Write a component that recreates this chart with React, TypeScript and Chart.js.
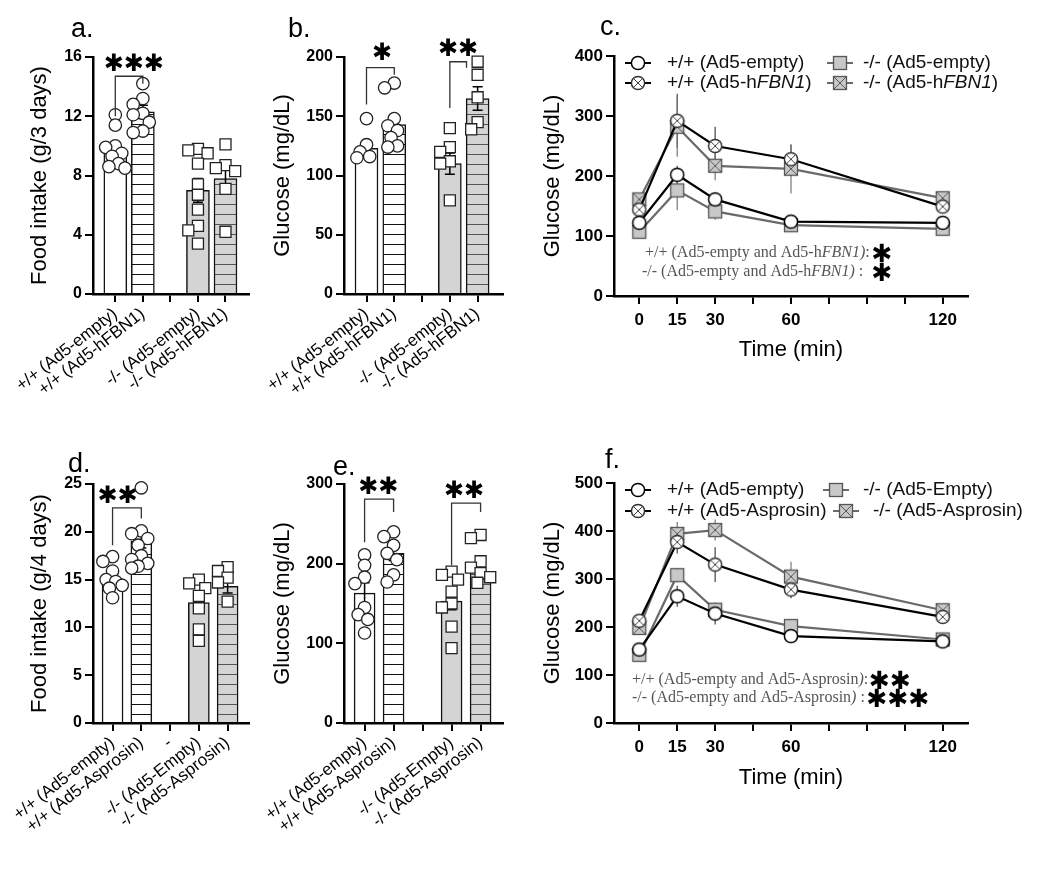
import React, { useEffect, useRef } from 'react';
import { Chart, registerables } from 'chart.js';
Chart.register(...registerables);

// ================= DATA =================
// Panel a — food intake (g/3 days)
const A_LABELS = ['+/+ (Ad5-empty)', '+/+ (Ad5-hFBN1)', '', '-/- (Ad5-empty)', '-/- (Ad5-hFBN1)'];
const A_MEAN = [9.6, 12.3, null, 7.0, 7.8];
const A_SEM = [0.4, 0.45, null, 0.8, 0.75];
const A_WT_EMPTY = [12.1, 11.4, 10.0, 9.9, 9.5, 9.3, 8.8, 8.6, 8.5];
const A_WT_FBN1 = [14.2, 13.2, 12.8, 12.2, 12.1, 11.6, 11.0, 10.9];
const A_KO_EMPTY = [9.8, 9.7, 9.5, 8.8, 7.4, 6.7, 5.7, 4.6, 4.3, 3.4];
const A_KO_FBN1 = [10.1, 8.7, 8.5, 8.3, 7.1, 4.2];

// Panel b — glucose (mg/dL)
const B_LABELS = ['+/+ (Ad5-empty)', '+/+ (Ad5-hFBN1)', '', '-/- (Ad5-empty)', '-/- (Ad5-hFBN1)'];
const B_MEAN = [123, 143, null, 110, 165];
const B_SEM = [6, 7, null, 9, 10];
const B_WT_EMPTY = [148, 126, 120, 116, 115];
const B_WT_FBN1 = [178, 174, 148, 142, 138, 132, 125, 124];
const B_KO_EMPTY = [140, 124, 120, 112, 110, 79];
const B_KO_FBN1 = [196, 185, 166, 145, 139];

// Panel c — GTT time course
const C_TIME = [0, 15, 30, 60, 120];
const C_WT_EMPTY = [122, 202, 161, 124, 122];
const C_WT_EMPTY_SEM = [5, 15, 12, 8, 4];
const C_WT_FBN1 = [144, 292, 250, 228, 149];
const C_WT_FBN1_SEM = [8, 45, 32, 24, 8];
const C_KO_EMPTY = [107, 176, 141, 118, 112];
const C_KO_EMPTY_SEM = [6, 33, 14, 10, 5];
const C_KO_FBN1 = [161, 282, 217, 212, 163];
const C_KO_FBN1_SEM = [10, 50, 24, 41, 10];

// Panel d — food intake (g/4 days)
const D_LABELS = ['+/+ (Ad5-empty)', '+/+ (Ad5-Asprosin)', '-', '-/- (Ad5-Empty)', '-/- (Ad5-Asprosin)'];
const D_MEAN = [15.1, 19.0, null, 12.6, 14.3];
const D_SEM = [0.5, 0.7, null, 0.9, 0.7];
const D_WT_EMPTY = [17.4, 16.9, 15.9, 15.0, 14.8, 14.4, 14.1, 13.1];
const D_WT_ASP = [24.6, 20.1, 19.8, 19.3, 18.6, 17.5, 17.1, 16.7, 16.4, 16.2];
const D_KO_EMPTY = [15.0, 14.6, 14.1, 13.3, 12.0, 9.8, 8.6];
const D_KO_ASP = [16.3, 15.9, 15.2, 14.7, 12.7];

// Panel e — glucose (mg/dL)
const E_LABELS = ['+/+ (Ad5-empty)', '+/+ (Ad5-Asprosin)', '', '-/- (Ad5-Empty)', '-/- (Ad5-Asprosin)'];
const E_MEAN = [163, 213, null, 153, 190];
const E_SEM = [13, 9, null, 11, 9];
const E_WT_EMPTY = [211, 198, 183, 175, 145, 136, 130, 113];
const E_WT_ASP = [240, 234, 223, 213, 205, 186, 177];
const E_KO_EMPTY = [190, 186, 180, 165, 150, 145, 121, 94];
const E_KO_ASP = [236, 232, 203, 195, 188, 183, 176];

// Panel f — GTT time course
const F_TIME = [0, 15, 30, 60, 120];
const F_WT_EMPTY = [153, 264, 228, 181, 170];
const F_WT_EMPTY_SEM = [6, 22, 23, 12, 8];
const F_WT_ASP = [213, 377, 330, 278, 221];
const F_WT_ASP_SEM = [10, 24, 36, 18, 10];
const F_KO_EMPTY = [142, 308, 236, 202, 174];
const F_KO_EMPTY_SEM = [6, 15, 13, 10, 6];
const F_KO_ASP = [198, 394, 402, 305, 235];
const F_KO_ASP_SEM = [10, 25, 22, 31, 10];

const TIME_TICKS = [0, 15, 30, 45, 60, 75, 90, 105, 120];
const TIME_LABELS = [0, 15, 30, 60, 120];

// ================= STYLE =================
const SANS = '"Liberation Sans", Arial, Helvetica, sans-serif';
const SERIF = '"Liberation Serif", "Times New Roman", serif';
const STAR = '✱';
const STAR_FONT = '"DejaVu Sans", sans-serif';

function makeHatch(bg: string, line: string): CanvasPattern {
  const c = document.createElement('canvas');
  c.width = 8; c.height = 10;
  const g = c.getContext('2d')!;
  g.fillStyle = bg; g.fillRect(0, 0, 8, 10);
  g.fillStyle = line; g.fillRect(0, 4, 8, 1);
  return g.createPattern(c, 'repeat')!;
}

function makeMarker(kind: string): HTMLCanvasElement {
  const s = 18;
  const c = document.createElement('canvas');
  c.width = s; c.height = s;
  const g = c.getContext('2d')!;
  const m = s / 2;
  if (kind === 'circle' || kind === 'circleX') {
    g.beginPath(); g.arc(m, m, 6.6, 0, Math.PI * 2);
    g.fillStyle = '#fff'; g.fill();
    g.lineWidth = 1.5; g.strokeStyle = kind === 'circle' ? '#000' : '#333'; g.stroke();
    if (kind === 'circleX') {
      const d = 4.6;
      g.beginPath(); g.moveTo(m - d, m - d); g.lineTo(m + d, m + d);
      g.moveTo(m + d, m - d); g.lineTo(m - d, m + d);
      g.lineWidth = 1; g.strokeStyle = '#444'; g.stroke();
    }
  } else {
    g.fillStyle = '#c8c8c8'; g.fillRect(m - 6.5, m - 6.5, 13, 13);
    g.lineWidth = 1.3; g.strokeStyle = '#555'; g.strokeRect(m - 6.5, m - 6.5, 13, 13);
    if (kind === 'squareX') {
      g.beginPath(); g.moveTo(m - 6.5, m - 6.5); g.lineTo(m + 6.5, m + 6.5);
      g.moveTo(m + 6.5, m - 6.5); g.lineTo(m - 6.5, m + 6.5);
      g.lineWidth = 1; g.strokeStyle = '#555'; g.stroke();
    }
  }
  return c;
}

// simple beeswarm: horizontal offsets (category units) so points do not pile up
function swarm(values: number[], pxPerUnit: number, pxPerCat: number, r: number, maxOff: number): number[] {
  const order = values.map((_, i) => i).sort((a, b) => values[b] - values[a]);
  const placed: { x: number; y: number }[] = [];
  const out = new Array(values.length).fill(0);
  const minD = 2 * r * 0.8;
  const cands = [0];
  for (let k = 1; k <= 6; k++) cands.push(-k * r * 0.55, k * r * 0.55);
  for (const i of order) {
    const y = values[i] * pxPerUnit;
    let best = 0, bestD = -1;
    for (const c of cands) {
      if (Math.abs(c) > maxOff) continue;
      let d = Infinity;
      for (const p of placed) d = Math.min(d, Math.hypot(p.x - c, p.y - y));
      if (d >= minD) { best = c; bestD = d; break; }
      if (d > bestD) { bestD = d; best = c; }
    }
    placed.push({ x: best, y });
    out[i] = best / pxPerCat;
  }
  return out;
}

function drawStars(ctx: CanvasRenderingContext2D, n: number, cx: number, cy: number, size: number, gap: number) {
  ctx.save();
  ctx.font = `bold ${size}px ${STAR_FONT}`;
  ctx.fillStyle = '#000';
  ctx.textAlign = 'center';
  ctx.textBaseline = 'middle';
  const start = cx - ((n - 1) * gap) / 2;
  for (let i = 0; i < n; i++) ctx.fillText(STAR, start + i * gap, cy);
  ctx.restore();
}

function drawRich(ctx: CanvasRenderingContext2D, text: string, x: number, y: number, size: number, family: string, color: string) {
  const parts = text.split(/(<i>|<\/i>)/);
  let italic = false;
  let cx = x;
  ctx.save();
  ctx.fillStyle = color;
  ctx.textAlign = 'left';
  ctx.textBaseline = 'middle';
  for (const p of parts) {
    if (p === '<i>') { italic = true; continue; }
    if (p === '</i>') { italic = false; continue; }
    if (!p) continue;
    ctx.font = `${italic ? 'italic ' : ''}${size}px ${family}`;
    ctx.fillText(p, cx, y);
    cx += ctx.measureText(p).width;
  }
  ctx.restore();
}

const letterPlugin = {
  id: 'panelLetter',
  afterDraw(chart: any, _a: any, opts: any) {
    if (!opts || !opts.text) return;
    const ctx = chart.ctx; const ca = chart.chartArea;
    ctx.save();
    ctx.font = `27px ${SANS}`;
    ctx.fillStyle = '#000';
    ctx.textAlign = 'left';
    ctx.textBaseline = 'alphabetic';
    ctx.fillText(opts.text, ca.left + opts.dx, ca.top + opts.dy);
    ctx.restore();
  },
};

const barExtras = {
  id: 'barExtras',
  afterDatasetDraw(chart: any, args: any) {
    const ds = chart.data.datasets[args.index];
    if (!ds.sem) return;
    const y = chart.scales.y; const ctx = chart.ctx;
    ctx.save();
    ctx.strokeStyle = '#000'; ctx.lineWidth = 1.5;
    args.meta.data.forEach((el: any, j: number) => {
      const raw = ds.data[j]; const s = ds.sem[j];
      if (!raw || s == null) return;
      const yt = y.getPixelForValue(raw.y + s), yb = y.getPixelForValue(raw.y - s);
      ctx.beginPath();
      ctx.moveTo(el.x, yt); ctx.lineTo(el.x, yb);
      ctx.moveTo(el.x - 5, yt); ctx.lineTo(el.x + 5, yt);
      ctx.moveTo(el.x - 5, yb); ctx.lineTo(el.x + 5, yb);
      ctx.stroke();
    });
    ctx.restore();
  },
  afterDraw(chart: any, _a: any, opts: any) {
    if (!opts) return;
    const xs = chart.scales.x, ys = chart.scales.y, ctx = chart.ctx;
    ctx.save();
    ctx.strokeStyle = '#333'; ctx.lineWidth = 1.3;
    (opts.brackets || []).forEach((b: any) => {
      const x1 = xs.getPixelForValue(b.x1), x2 = xs.getPixelForValue(b.x2);
      ctx.beginPath();
      ctx.moveTo(x1, ys.getPixelForValue(b.y1));
      ctx.lineTo(x1, ys.getPixelForValue(b.yTop));
      ctx.lineTo(x2, ys.getPixelForValue(b.yTop));
      ctx.lineTo(x2, ys.getPixelForValue(b.y2));
      ctx.stroke();
    });
    ctx.restore();
    (opts.stars || []).forEach((s: any) => {
      drawStars(ctx, s.n, xs.getPixelForValue(s.x), ys.getPixelForValue(s.y), 24, 20);
    });
  },
};

const lineExtras = {
  id: 'lineExtras',
  beforeDatasetsDraw(chart: any) {
    const ctx = chart.ctx; const ys = chart.scales.y;
    ctx.save();
    chart.data.datasets.forEach((ds: any, i: number) => {
      const meta = chart.getDatasetMeta(i);
      if (!ds.sem) return;
      ctx.strokeStyle = ds.errColor; ctx.lineWidth = 1.2;
      meta.data.forEach((pt: any, j: number) => {
        const v = ds.data[j].y, s = ds.sem[j];
        ctx.beginPath();
        ctx.moveTo(pt.x, ys.getPixelForValue(v + s));
        ctx.lineTo(pt.x, ys.getPixelForValue(v - s));
        ctx.stroke();
      });
    });
    ctx.restore();
  },
  afterDraw(chart: any, _a: any, opts: any) {
    if (!opts) return;
    const ctx = chart.ctx; const ca = chart.chartArea;
    (opts.legend || []).forEach((it: any) => {
      const ds = chart.data.datasets[it.ds];
      const mx = ca.left + it.mx, my = ca.top + it.y;
      ctx.save();
      ctx.strokeStyle = ds.borderColor; ctx.lineWidth = 2;
      ctx.beginPath(); ctx.moveTo(mx - 13, my); ctx.lineTo(mx + 13, my); ctx.stroke();
      ctx.drawImage(ds.pointStyle, mx - 9, my - 9);
      ctx.restore();
      drawRich(ctx, ds.label, ca.left + it.tx, my, 19, SANS, '#111');
    });
    (opts.notes || []).forEach((n: any) => {
      drawRich(ctx, n.text, ca.left + n.x, ca.top + n.y, 16, SERIF, '#555');
      drawStars(ctx, n.n, ca.left + n.sx, ca.top + n.y + 2, 25, 21);
    });
  },
};

// ================= BUILDERS =================
type BarSpec = {
  labels: string[]; mean: (number | null)[]; sem: (number | null)[]; groups: (number[] | null)[];
  yMax: number; yStep: number; yTitle: string; letter: string; letterDx: number; letterDy: number;
  brackets: any[]; stars: any[];
  w: number; h: number; padL: number; yW: number; padT: number; padR: number; padB: number; xH: number;
  xMin: number; xMax: number; barW: number;
};

function buildBar(s: BarSpec) {
  const fills = [ '#ffffff', makeHatch('#ffffff', '#111111'), null, '#d4d4d4', makeHatch('#d4d4d4', '#555555') ];
  const plotW = s.w - s.padL - s.yW - s.padR;
  const plotH = s.h - s.padT - s.padB - s.xH;
  const pxPerCat = plotW / (s.xMax - s.xMin);
  const pxPerUnit = plotH / s.yMax;
  const idx = s.mean.map((m, i) => (m == null ? -1 : i)).filter((i) => i >= 0);
  const datasets: any[] = [
    {
      type: 'bar',
      data: idx.map((i) => ({ x: i, y: s.mean[i] })),
      sem: idx.map((i) => s.sem[i]),
      backgroundColor: idx.map((i) => fills[i]),
      borderColor: '#111',
      borderWidth: 1.5,
      borderSkipped: 'bottom',
      barThickness: s.barW,
      order: 2,
      clip: false,
    },
  ];
  s.groups.forEach((g, i) => {
    if (!g) return;
    const offs = swarm(g, pxPerUnit, pxPerCat, 6.0, 12);
    datasets.push({
      type: 'scatter',
      data: g.map((v, j) => ({ x: i + offs[j], y: v })),
      pointStyle: i < 2 ? 'circle' : 'rect',
      pointRadius: i < 2 ? 6.2 : 7.8,
      backgroundColor: '#fff',
      borderColor: '#222',
      borderWidth: 1.3,
      order: 1,
      clip: false,
    });
  });
  return {
    type: 'bar',
    data: { datasets },
    plugins: [barExtras, letterPlugin],
    options: {
      responsive: false,
      animation: false,
      events: [],
      layout: { padding: { left: s.padL, top: s.padT, right: s.padR, bottom: s.padB } },
      plugins: {
        legend: { display: false }, tooltip: { enabled: false },
        barExtras: { brackets: s.brackets, stars: s.stars },
        panelLetter: { text: s.letter, dx: s.letterDx, dy: s.letterDy },
      },
      scales: {
        x: {
          type: 'linear', min: s.xMin, max: s.xMax, offset: false,
          afterBuildTicks: (sc: any) => { sc.ticks = s.labels.map((_, i) => ({ value: i })); },
          afterFit: (sc: any) => { sc.height = s.xH; },
          grid: { offset: false, drawOnChartArea: false, drawTicks: true, tickLength: 8, color: '#000', lineWidth: 2 },
          border: { display: true, color: '#000', width: 2.5 },
          ticks: {
            autoSkip: false, minRotation: 38, maxRotation: 38, padding: 2, color: '#000',
            font: { family: SANS, size: 17 },
            callback: (v: any) => s.labels[Math.round(v)] ?? '',
          },
        },
        y: {
          type: 'linear', min: 0, max: s.yMax,
          afterFit: (sc: any) => { sc.width = s.yW; },
          grid: { drawOnChartArea: false, drawTicks: true, tickLength: 8, color: '#000', lineWidth: 2 },
          border: { display: true, color: '#000', width: 2.5 },
          ticks: { stepSize: s.yStep, padding: 3, color: '#000', font: { family: SANS, size: 16, weight: 'bold' } },
          title: { display: true, text: s.yTitle, color: '#000', font: { family: SANS, size: 22 }, padding: { top: 4, bottom: 4 } },
        },
      },
    },
  };
}

type LineSpec = {
  series: { label: string; vals: number[]; sem: number[]; marker: string; color: string; order: number }[];
  time: number[];
  yMax: number; letter: string; letterDx: number; letterDy: number;
  legend: any[]; notes: any[];
  w: number; h: number; padL: number; yW: number; padT: number; padR: number; padB: number; xH: number;
};

function buildLine(s: LineSpec) {
  const datasets = s.series.map((se) => ({
    type: 'line',
    label: se.label,
    data: s.time.map((t, i) => ({ x: t, y: se.vals[i] })),
    sem: se.sem,
    borderColor: se.color,
    errColor: se.color === '#000' ? '#444' : '#777',
    borderWidth: 2.2,
    pointStyle: makeMarker(se.marker),
    pointRadius: 7,
    tension: 0,
    fill: false,
    order: se.order,
    clip: false,
  }));
  return {
    type: 'line',
    data: { datasets },
    plugins: [lineExtras, letterPlugin],
    options: {
      responsive: false,
      animation: false,
      events: [],
      layout: { padding: { left: s.padL, top: s.padT, right: s.padR, bottom: s.padB } },
      plugins: {
        legend: { display: false }, tooltip: { enabled: false },
        lineExtras: { legend: s.legend, notes: s.notes },
        panelLetter: { text: s.letter, dx: s.letterDx, dy: s.letterDy },
      },
      scales: {
        x: {
          type: 'linear', min: -10, max: 130,
          afterBuildTicks: (sc: any) => { sc.ticks = TIME_TICKS.map((v) => ({ value: v })); },
          afterFit: (sc: any) => { sc.height = s.xH; },
          grid: { drawOnChartArea: false, drawTicks: true, tickLength: 8, color: '#000', lineWidth: 2 },
          border: { display: true, color: '#000', width: 2.5 },
          ticks: {
            autoSkip: false, maxRotation: 0, padding: 6, color: '#000',
            font: { family: SANS, size: 17, weight: 'bold' },
            callback: (v: any) => (TIME_LABELS.includes(v) ? String(v) : ''),
          },
          title: { display: true, text: 'Time (min)', color: '#000', font: { family: SANS, size: 22 }, padding: { top: 4, bottom: 4 } },
        },
        y: {
          type: 'linear', min: 0, max: s.yMax,
          afterFit: (sc: any) => { sc.width = s.yW; },
          grid: { drawOnChartArea: false, drawTicks: true, tickLength: 8, color: '#000', lineWidth: 2 },
          border: { display: true, color: '#000', width: 2.5 },
          ticks: { stepSize: 100, padding: 3, color: '#000', font: { family: SANS, size: 17, weight: 'bold' } },
          title: { display: true, text: 'Glucose (mg/dL)', color: '#000', font: { family: SANS, size: 22 }, padding: { top: 4, bottom: 4 } },
        },
      },
    },
  };
}

// ================= PANELS =================
const panelA = () => buildBar({
  labels: A_LABELS, mean: A_MEAN, sem: A_SEM, groups: [A_WT_EMPTY, A_WT_FBN1, null, A_KO_EMPTY, A_KO_FBN1],
  yMax: 16, yStep: 4, yTitle: 'Food intake (g/3 days)', letter: 'a.', letterDx: -22, letterDy: -20,
  brackets: [{ x1: 0, x2: 1, y1: 12.0, yTop: 14.7, y2: 14.2 }],
  stars: [{ n: 3, x: 0.67, y: 15.5 }],
  w: 258, h: 420, padL: 23, yW: 70, padT: 57, padR: 5, padB: 6, xH: 120, xMin: -0.81, xMax: 4.85, barW: 23,
});

const panelB = () => buildBar({
  labels: B_LABELS, mean: B_MEAN, sem: B_SEM, groups: [B_WT_EMPTY, B_WT_FBN1, null, B_KO_EMPTY, B_KO_FBN1],
  yMax: 200, yStep: 50, yTitle: 'Glucose (mg/dL)', letter: 'b.', letterDx: -56, letterDy: -20,
  brackets: [
    { x1: 0, x2: 1, y1: 160, yTop: 191, y2: 185 },
    { x1: 3, x2: 3.6, y1: 157, yTop: 196, y2: 191 },
  ],
  stars: [{ n: 1, x: 0.56, y: 203 }, { n: 2, x: 3.3, y: 206 }],
  w: 262, h: 420, padL: 16, yW: 78, padT: 57, padR: 5, padB: 6, xH: 120, xMin: -0.81, xMax: 4.91, barW: 23,
});

const panelD = () => buildBar({
  labels: D_LABELS, mean: D_MEAN, sem: D_SEM, groups: [D_WT_EMPTY, D_WT_ASP, null, D_KO_EMPTY, D_KO_ASP],
  yMax: 25, yStep: 5, yTitle: 'Food intake (g/4 days)', letter: 'd.', letterDx: -25, letterDy: -12,
  brackets: [{ x1: 0, x2: 1, y1: 18.6, yTop: 22.5, y2: 21.4 }],
  stars: [{ n: 2, x: 0.17, y: 23.7 }],
  w: 258, h: 455, padL: 23, yW: 70, padT: 64, padR: 5, padB: 22, xH: 130, xMin: -0.68, xMax: 4.74, barW: 21,
});

const panelE = () => buildBar({
  labels: E_LABELS, mean: E_MEAN, sem: E_SEM, groups: [E_WT_EMPTY, E_WT_ASP, null, E_KO_EMPTY, E_KO_ASP],
  yMax: 300, yStep: 100, yTitle: 'Glucose (mg/dL)', letter: 'e.', letterDx: -11, letterDy: -9,
  brackets: [
    { x1: 0, x2: 1, y1: 227, yTop: 281, y2: 265 },
    { x1: 3, x2: 4, y1: 198, yTop: 276, y2: 265 },
  ],
  stars: [{ n: 2, x: 0.47, y: 295 }, { n: 2, x: 3.43, y: 290 }],
  w: 262, h: 455, padL: 16, yW: 78, padT: 64, padR: 5, padB: 22, xH: 130, xMin: -0.71, xMax: 4.77, barW: 21,
});

const panelC = () => buildLine({
  time: C_TIME, yMax: 400, letter: 'c.', letterDx: -14, letterDy: -21,
  series: [
    { label: '+/+ (Ad5-empty)', vals: C_WT_EMPTY, sem: C_WT_EMPTY_SEM, marker: 'circle', color: '#000', order: 0 },
    { label: '+/+ (Ad5-h<i>FBN1</i>)', vals: C_WT_FBN1, sem: C_WT_FBN1_SEM, marker: 'circleX', color: '#000', order: 0 },
    { label: '-/- (Ad5-empty)', vals: C_KO_EMPTY, sem: C_KO_EMPTY_SEM, marker: 'square', color: '#6a6a6a', order: 1 },
    { label: '-/- (Ad5-h<i>FBN1</i>)', vals: C_KO_FBN1, sem: C_KO_FBN1_SEM, marker: 'squareX', color: '#6a6a6a', order: 1 },
  ],
  legend: [
    { ds: 0, mx: 24, tx: 53, y: 7 },
    { ds: 1, mx: 24, tx: 53, y: 27 },
    { ds: 2, mx: 226, tx: 249, y: 7 },
    { ds: 3, mx: 226, tx: 249, y: 27 },
  ],
  notes: [
    { text: '+/+ (Ad5-empty and Ad5-h<i>FBN1)</i>:', x: 31, y: 197, n: 1, sx: 268 },
    { text: '-/- (Ad5-empty and Ad5-h<i>FBN1)</i> :', x: 28, y: 216, n: 1, sx: 268 },
  ],
  w: 530, h: 420, padL: 16, yW: 78, padT: 56, padR: 82, padB: 53, xH: 71,
});

const panelF = () => buildLine({
  time: F_TIME, yMax: 500, letter: 'f.', letterDx: -9, letterDy: -15,
  series: [
    { label: '+/+ (Ad5-empty)', vals: F_WT_EMPTY, sem: F_WT_EMPTY_SEM, marker: 'circle', color: '#000', order: 0 },
    { label: '+/+ (Ad5-Asprosin)', vals: F_WT_ASP, sem: F_WT_ASP_SEM, marker: 'circleX', color: '#000', order: 0 },
    { label: '-/- (Ad5-Empty)', vals: F_KO_EMPTY, sem: F_KO_EMPTY_SEM, marker: 'square', color: '#6a6a6a', order: 1 },
    { label: '-/- (Ad5-Asprosin)', vals: F_KO_ASP, sem: F_KO_ASP_SEM, marker: 'squareX', color: '#6a6a6a', order: 1 },
  ],
  legend: [
    { ds: 0, mx: 24, tx: 53, y: 7 },
    { ds: 1, mx: 24, tx: 53, y: 28 },
    { ds: 2, mx: 222, tx: 249, y: 7 },
    { ds: 3, mx: 232, tx: 259, y: 28 },
  ],
  notes: [
    { text: '+/+ (Ad5-empty and Ad5-Asprosin<i>)</i>:', x: 18, y: 197, n: 2, sx: 276 },
    { text: '-/- (Ad5-empty and Ad5-Asprosin<i>)</i> :', x: 18, y: 215, n: 3, sx: 284 },
  ],
  w: 530, h: 455, padL: 16, yW: 78, padT: 63, padR: 82, padB: 80, xH: 72,
});

function ChartBox({ build, left, top, width, height }: { build: () => any; left: number; top: number; width: number; height: number }) {
  const ref = useRef<HTMLCanvasElement>(null);
  useEffect(() => {
    const chart = new Chart(ref.current as HTMLCanvasElement, build());
    return () => chart.destroy();
  }, []);
  return (
    <canvas
      ref={ref}
      width={width}
      height={height}
      style={{ position: 'absolute', left, top, width, height }}
    />
  );
}

export default function App() {
  return (
    <div style={{ position: 'absolute', left: 0, top: 0, width: 1050, height: 875, background: '#fff', overflow: 'hidden' }}>
      <ChartBox build={panelA} left={0} top={0} width={258} height={420} />
      <ChartBox build={panelB} left={250} top={0} width={262} height={420} />
      <ChartBox build={panelC} left={520} top={0} width={530} height={420} />
      <ChartBox build={panelD} left={0} top={420} width={258} height={455} />
      <ChartBox build={panelE} left={250} top={420} width={262} height={455} />
      <ChartBox build={panelF} left={520} top={420} width={530} height={455} />
    </div>
  );
}
